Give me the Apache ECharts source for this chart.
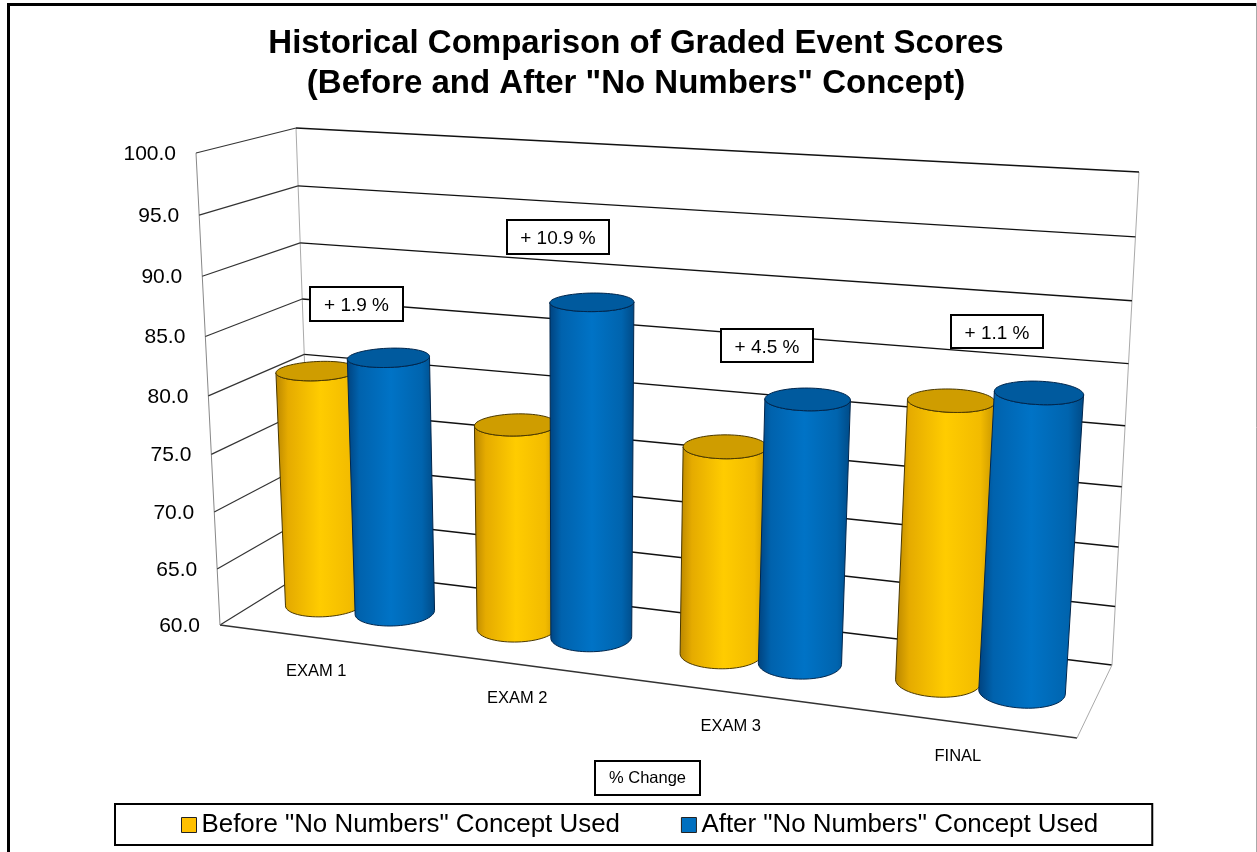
<!DOCTYPE html>
<html>
<head>
<meta charset="utf-8">
<title>Graded Event Scores</title>
<script src="https://cdn.jsdelivr.net/npm/echarts@6/dist/echarts.min.js"></script>
<style>
  html, body { margin: 0; padding: 0; background: #fff; }
  #main { width: 1257px; height: 852px; }
</style>
</head>
<body>
<div id="main"></div>
<script>
var categories = ['EXAM 1', 'EXAM 2', 'EXAM 3', 'FINAL'];
var beforeScores = [80.8, 77.75, 77.6, 83.0];
var afterScores = [82.5, 88.55, 82.1, 84.2];
var pctChange = ['+ 1.9 %', '+ 10.9 %', '+ 4.5 %', '+ 1.1 %'];
var yTicks = [60, 65, 70, 75, 80, 85, 90, 95, 100];

var FONT = '"Liberation Sans", Arial, sans-serif';

// corners of the 3d box on screen, F/B front/back, B/T bottom/top, L/R
var box = {
  FBL: [220, 625], FTL: [196, 153], BBL: [312, 568], BTL: [296, 128],
  FBR: [1077, 738], FTR: [1117, 210], BBR: [1112, 665], BTR: [1139, 172]
};

function mix(a, b, t) {
  return [a[0] + (b[0] - a[0]) * t, a[1] + (b[1] - a[1]) * t];
}

// u 0..1 along categories, v 0..1 up the value axis, w 0..1 into the depth
function to3d(u, v, w) {
  var uu = u / (1.13 - 0.13 * u);
  var vv = v / (1.06 - 0.06 * v);
  var front = mix(mix(box.FBL, box.FBR, uu), mix(box.FTL, box.FTR, uu), vv);
  var back = mix(mix(box.BBL, box.BBR, uu), mix(box.BTL, box.BTR, uu), vv);
  return mix(front, back, w);
}

function unit(pt, cs) {
  return [(pt[0] - cs.x) / cs.width, (cs.y + cs.height - pt[1]) / cs.height];
}

function line(a, b, color, width) {
  return {
    type: 'line',
    shape: { x1: a[0], y1: a[1], x2: b[0], y2: b[1] },
    style: { stroke: color, lineWidth: width || 1 }
  };
}

function renderWall(params, api) {
  var cs = params.coordSys;
  var p = unit(api.coord([0, api.value(0)]), cs);
  var v = p[1];
  var a = to3d(0, v, 0), b = to3d(0, v, 1), c = to3d(1, v, 1);
  var kids = [line(a, b, '#333', 1.2), line(b, c, '#111', 1.4)];
  if (v < 0.001) {
    var d = to3d(1, 0, 0);
    kids.push(line(a, d, '#333', 1.3));
    kids.push(line(d, c, '#aaa'));
    kids.push(line(a, to3d(0, 1, 0), '#888'));
    kids.push(line(b, to3d(0, 1, 1), '#aaa'));
    kids.push(line(c, to3d(1, 1, 1), '#aaa'));
  }
  kids.push({
    type: 'text',
    x: a[0] - 20,
    y: a[1] + 1,
    style: {
      text: api.value(0).toFixed(1), font: '21px ' + FONT, fill: '#000',
      align: 'right', verticalAlign: 'middle'
    }
  });
  return { type: 'group', children: kids };
}

function renderCategoryLabel(params, api) {
  var cs = params.coordSys;
  var p = unit(api.coord([api.value(0), 60]), cs);
  var a = to3d(p[0], 0, 0);
  return {
    type: 'text',
    x: a[0],
    y: a[1] + 34,
    style: { text: categories[api.value(0)], font: '16.5px ' + FONT, fill: '#000', align: 'center', verticalAlign: 'middle' }
  };
}

// rightmost to leftmost point of a projected circle, going round the front
function frontArc(pts) {
  var iL = 0, iR = 0, k;
  for (k = 0; k < pts.length; k++) {
    if (pts[k][0] < pts[iL][0]) iL = k;
    if (pts[k][0] > pts[iR][0]) iR = k;
  }
  var out = [];
  for (k = iR; k !== iL; k = (k + 1) % pts.length) out.push(pts[k]);
  out.push(pts[iL]);
  return out;
}

function cylinderRenderer(offset, sideStops, topColor, edgeColor) {
  return function (params, api) {
    var cs = params.coordSys;
    var i = api.value(0);
    var top = unit(api.coord([i, api.value(1)]), cs);
    var band = api.size([1, 0])[0] / cs.width;
    var cu = top[0] + offset * band;
    var ru = 0.185 * band;
    var rw = 0.22;
    var n = 72, bot = [], head = [], k, t;
    for (k = 0; k < n; k++) {
      t = k / n * Math.PI * 2;
      bot.push(to3d(cu + ru * Math.cos(t), 0, 0.51 - rw * Math.sin(t)));
      head.push(to3d(cu + ru * Math.cos(t), top[1], 0.51 - rw * Math.sin(t)));
    }
    var body = frontArc(bot).concat(frontArc(head).reverse());
    return {
      type: 'group',
      children: [
        {
          type: 'polygon',
          shape: { points: body },
          style: {
            fill: new echarts.graphic.LinearGradient(0, 0, 1, 0, sideStops),
            stroke: edgeColor, lineWidth: 1
          }
        },
        {
          type: 'polygon',
          shape: { points: head },
          style: { fill: topColor, stroke: edgeColor, lineWidth: 1 }
        }
      ]
    };
  };
}

var yellowStops = [
  { offset: 0, color: '#b98600' }, { offset: 0.14, color: '#e5ab00' },
  { offset: 0.5, color: '#ffcc00' }, { offset: 0.85, color: '#f2bb00' },
  { offset: 1, color: '#c79500' }
];
var blueStops = [
  { offset: 0, color: '#00427e' }, { offset: 0.14, color: '#0062ad' },
  { offset: 0.5, color: '#0073c6' }, { offset: 0.85, color: '#0064ae' },
  { offset: 1, color: '#004a86' }
];

function toPairs(list) {
  return list.map(function (v, i) { return [i, v]; });
}

var annotationGraphic = [
  [310, 287, 93, 34], [507, 220, 102, 34], [721, 329, 92, 33], [951, 315, 92, 33]
].map(function (r, i) {
  return {
    type: 'group',
    children: [
      { type: 'rect', z: 20, shape: { x: r[0], y: r[1], width: r[2], height: r[3] }, style: { fill: '#fff', stroke: '#000', lineWidth: 2 } },
      {
        type: 'text', z: 21, x: r[0] + r[2] / 2, y: r[1] + r[3] / 2 + 2,
        style: { text: pctChange[i], font: '19px ' + FONT, fill: '#000', align: 'center', verticalAlign: 'middle' }
      }
    ]
  };
});

var chart = echarts.init(document.getElementById('main'), null, { renderer: 'canvas' });
chart.setOption({
  animation: false,
  backgroundColor: '#fff',
  title: {
    text: 'Historical Comparison of Graded Event Scores\n(Before and After "No Numbers" Concept)',
    left: 631,
    top: 19,
    textAlign: 'center',
    textStyle: { fontFamily: FONT, fontSize: 33, fontWeight: 'bold', color: '#000', lineHeight: 40 }
  },
  legend: {
    left: 115,
    top: 804,
    orient: 'horizontal',
    padding: [8, 54, 7, 66],
    borderColor: '#000',
    borderWidth: 2,
    itemWidth: 15,
    itemHeight: 15,
    itemGap: 61,
    textStyle: { fontFamily: FONT, fontSize: 25.9, color: '#000' },
    data: [
      { name: 'Before "No Numbers" Concept Used', icon: 'rect', itemStyle: { color: '#ffc000', borderColor: '#222', borderWidth: 1 } },
      { name: 'After "No Numbers" Concept Used', icon: 'rect', itemStyle: { color: '#0070c0', borderColor: '#222', borderWidth: 1 } }
    ]
  },
  grid: { left: 220, top: 150, width: 860, height: 470, containLabel: false },
  xAxis: { type: 'category', data: categories, show: false },
  yAxis: { type: 'value', min: 60, max: 100, interval: 5, show: false },
  series: [
    { type: 'custom', name: 'walls', clip: false, z: 1, silent: true, renderItem: renderWall, data: yTicks.map(function (t) { return [t]; }), encode: { y: 0 } },
    { type: 'custom', name: 'labels', clip: false, z: 1, silent: true, renderItem: renderCategoryLabel, data: categories.map(function (c, i) { return [i]; }), encode: { x: 0 } },
    {
      type: 'custom', name: 'Before "No Numbers" Concept Used', clip: false, z: 2,
      itemStyle: { color: '#ffc000' },
      renderItem: cylinderRenderer(-0.185, yellowStops, '#cf9d00', '#4a3800'),
      data: toPairs(beforeScores), encode: { x: 0, y: 1 }
    },
    {
      type: 'custom', name: 'After "No Numbers" Concept Used', clip: false, z: 3,
      itemStyle: { color: '#0070c0' },
      renderItem: cylinderRenderer(0.185, blueStops, '#005a9e', '#00264d'),
      data: toPairs(afterScores), encode: { x: 0, y: 1 }
    }
  ],
  graphic: annotationGraphic.concat([
    { type: 'line', shape: { x1: 8.5, y1: 3, x2: 8.5, y2: 852 }, style: { stroke: '#000', lineWidth: 3 }, z: 10 },
    { type: 'line', shape: { x1: 7, y1: 4.5, x2: 1257, y2: 4.5 }, style: { stroke: '#000', lineWidth: 3 }, z: 10 },
    { type: 'line', shape: { x1: 1256.5, y1: 3, x2: 1256.5, y2: 852 }, style: { stroke: '#aaa', lineWidth: 1 }, z: 10 },
    { type: 'rect', z: 20, shape: { x: 595, y: 761, width: 105, height: 34 }, style: { fill: '#fff', stroke: '#000', lineWidth: 2 } },
    { type: 'text', z: 21, x: 647.5, y: 778, style: { text: '% Change', font: '16.5px ' + FONT, fill: '#000', align: 'center', verticalAlign: 'middle' } }
  ])
});
</script>
</body>
</html>
